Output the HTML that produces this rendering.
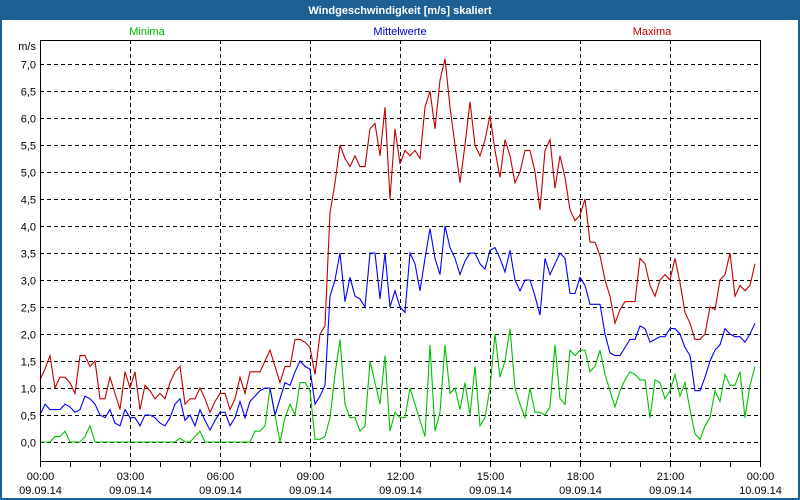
<!DOCTYPE html>
<html><head><meta charset="utf-8"><style>
body{margin:0;background:#fff;}
svg{display:block;font-family:"Liberation Sans",sans-serif;}
</style></head><body>
<svg id="chart" width="800" height="500">
<rect x="0" y="0" width="800" height="500" fill="#1e5f94"/>
<rect x="2" y="20" width="796" height="478" fill="#ffffff"/>
<text x="400" y="14" fill="#fff" font-size="11" font-weight="bold" text-anchor="middle">Windgeschwindigkeit [m/s] skaliert</text>
<text x="147" y="35" fill="#00b000" font-size="11" text-anchor="middle">Minima</text>
<text x="400" y="35" fill="#0000c0" font-size="11" text-anchor="middle">Mittelwerte</text>
<text x="652" y="35" fill="#c00000" font-size="11" text-anchor="middle">Maxima</text>
<text x="36" y="50" font-size="11" text-anchor="end">m/s</text>
<g id="grid"></g>
<g id="series"></g>
<rect x="40.5" y="40.5" width="720" height="421" fill="none" stroke="#000" stroke-width="1"/>
<g id="axes"></g>
</svg>
<script>
const xTickLabels=["00:00","03:00","06:00","09:00","12:00","15:00","18:00","21:00","00:00"];
const xDateLabels=["09.09.14","09.09.14","09.09.14","09.09.14","09.09.14","09.09.14","09.09.14","09.09.14","10.09.14"];
const yTicks=[0,0.5,1,1.5,2,2.5,3,3.5,4,4.5,5,5.5,6,6.5,7];
const maxima=[1.15,1.35,1.6,1.0,1.2,1.2,1.1,0.9,1.6,1.6,1.4,1.5,0.8,0.8,1.2,0.9,0.6,1.3,1.0,1.3,0.6,1.05,0.95,0.8,0.9,0.8,1.1,1.3,1.4,0.7,0.8,0.8,1.0,0.8,0.55,0.75,0.9,0.9,0.6,0.8,1.2,0.9,1.3,1.3,1.3,1.5,1.7,1.4,1.1,1.4,1.4,1.9,1.9,1.85,1.75,1.25,2.0,2.15,4.25,4.8,5.5,5.25,5.1,5.3,5.1,5.1,5.8,5.9,5.3,6.2,4.5,5.8,5.15,5.4,5.3,5.4,5.25,6.2,6.5,5.8,6.7,7.1,6.2,5.5,4.8,5.5,6.3,5.5,5.3,5.6,6.05,5.4,4.9,5.6,5.3,4.8,5.0,5.4,5.4,5.0,4.3,5.4,5.6,4.7,5.3,4.9,4.3,4.1,4.2,4.5,3.7,3.7,3.45,3.0,2.7,2.2,2.45,2.6,2.6,2.6,3.4,3.3,2.9,2.7,3.0,3.1,3.0,3.4,2.95,2.4,2.2,1.9,1.9,2.0,2.5,2.45,3.0,3.1,3.5,2.7,2.9,2.8,2.9,3.3];
const mittel=[0.5,0.7,0.6,0.6,0.6,0.7,0.65,0.55,0.6,0.85,0.8,0.7,0.5,0.45,0.6,0.35,0.3,0.6,0.45,0.45,0.3,0.5,0.5,0.45,0.35,0.3,0.45,0.7,0.8,0.4,0.5,0.3,0.6,0.4,0.22,0.4,0.55,0.55,0.3,0.45,0.75,0.45,0.75,0.85,0.95,1.0,1.0,0.5,0.8,1.1,1.05,1.3,1.5,1.4,1.35,0.7,0.85,1.05,2.7,3.0,3.5,2.6,3.05,2.7,2.65,2.5,3.5,3.5,2.65,3.5,2.5,2.8,2.5,2.4,3.5,3.3,2.8,3.4,3.95,3.4,3.1,4.0,3.6,3.4,3.1,3.35,3.5,3.5,3.3,3.2,3.55,3.6,3.4,3.15,3.55,3.0,2.8,3.0,3.0,2.7,2.35,3.4,3.1,3.3,3.5,3.4,2.75,2.75,3.05,2.9,2.55,2.55,2.55,2.0,1.65,1.6,1.6,1.75,1.9,1.9,2.15,2.1,1.85,1.9,1.95,1.95,2.1,2.1,2.0,1.75,1.6,0.95,0.95,1.2,1.5,1.7,1.8,2.1,2.0,1.95,1.95,1.85,2.0,2.2];
const minima=[0,0,0,0.1,0.1,0.2,0,0,0,0.1,0.3,0,0,0,0,0,0,0,0,0,0,0,0,0,0,0,0,0,0.07,0,0,0.1,0.2,0,0,0,0,0,0,0,0,0,0,0.2,0.2,0.3,1.0,0.5,0,0.45,0.7,0.5,1.1,1.1,0.95,0.05,0.05,0.1,0.45,1.25,1.9,0.7,0.45,0.45,0.2,0.3,1.5,1.1,0.7,1.6,0.2,0.55,0.45,0.45,1.0,0.7,0.4,0.1,1.8,0.2,0.55,1.8,0.9,1.0,0.6,1.1,0.5,1.4,0.3,0.45,1.0,2.0,1.2,1.5,2.1,1.0,0.7,0.45,1.0,0.55,0.55,0.5,0.65,1.8,0.8,0.7,1.7,1.6,1.7,1.7,1.3,1.4,1.7,1.25,0.95,0.65,0.95,1.15,1.3,1.25,1.15,1.15,0.45,1.15,1.1,0.8,0.95,1.25,0.85,1.1,0.6,0.15,0.05,0.3,0.45,0.95,0.75,1.25,1.05,1.05,1.3,0.45,1.05,1.4];

const NS="http://www.w3.org/2000/svg";
const X0=40,X1=760,Y0=442,Y7=64;
const stepsPerDay=144;
function xs(i){return X0+(X1-X0)*i/stepsPerDay;}
function ys(v){return Y0-(Y0-Y7)*v/7;}
function xh(h){return X0+(X1-X0)*h/24;}
const grid=document.getElementById('grid'),axes=document.getElementById('axes'),series=document.getElementById('series');
yTicks.forEach(function(t){
  const y=Math.round(ys(t))+0.5;
  if(t>0){
    const l=document.createElementNS(NS,'line');
    l.setAttribute('x1',X0);l.setAttribute('x2',X1);l.setAttribute('y1',y);l.setAttribute('y2',y);
    l.setAttribute('stroke','#000');l.setAttribute('stroke-dasharray','4,3');
    
    
    grid.appendChild(l);
  } else {
    const l=document.createElementNS(NS,'line');
    l.setAttribute('x1',X0);l.setAttribute('x2',X1);l.setAttribute('y1',y);l.setAttribute('y2',y);
    l.setAttribute('stroke','#000');l.setAttribute('stroke-dasharray','4,3');
    
    
    grid.appendChild(l);
  }
  const tx=document.createElementNS(NS,'text');
  tx.setAttribute('x',36);tx.setAttribute('y',y+4);tx.setAttribute('font-size','11');tx.setAttribute('text-anchor','end');
  tx.textContent=t.toFixed(1).replace('.',',');
  
  
  axes.appendChild(tx);
});
xTickLabels.forEach(function(lab,k){
  const x=Math.round(xh(k*3))+0.5;
  if(k>0&&k<xTickLabels.length-1){
    const l=document.createElementNS(NS,'line');
    l.setAttribute('x1',x);l.setAttribute('x2',x);l.setAttribute('y1',40);l.setAttribute('y2',462);
    l.setAttribute('stroke','#000');l.setAttribute('stroke-dasharray','4,3');
    
    
    grid.appendChild(l);
  }
  const t1=document.createElementNS(NS,'text');
  t1.setAttribute('x',x);t1.setAttribute('y',480);t1.setAttribute('font-size','11');t1.setAttribute('text-anchor','middle');
  t1.textContent=lab;
  
  
  axes.appendChild(t1);
  const t2=document.createElementNS(NS,'text');
  t2.setAttribute('x',x);t2.setAttribute('y',494);t2.setAttribute('font-size','11');t2.setAttribute('text-anchor','middle');
  t2.textContent=xDateLabels[k];
  
  
  axes.appendChild(t2);
});
for(let h=0;h<=24;h++){
  const x=Math.round(xh(h))+0.5;
  const l=document.createElementNS(NS,'line');
  l.setAttribute('x1',x);l.setAttribute('x2',x);l.setAttribute('y1',462);l.setAttribute('y2',467);
  l.setAttribute('stroke','#000');
  
  
  axes.appendChild(l);
}
function drawLine(arr,color,name){
  const p=document.createElementNS(NS,'polyline');
  p.setAttribute('points',arr.map(function(v,i){return xs(i).toFixed(1)+','+ys(v).toFixed(1);}).join(' '));
  p.setAttribute('fill','none');p.setAttribute('stroke',color);p.setAttribute('stroke-width','1.1');
  
  
  series.appendChild(p);
}
drawLine(minima,'#00c000','minima-line');
drawLine(mittel,'#0000ff','mittelwerte-line');
drawLine(maxima,'#c00000','maxima-line');
</script>
</body></html>
